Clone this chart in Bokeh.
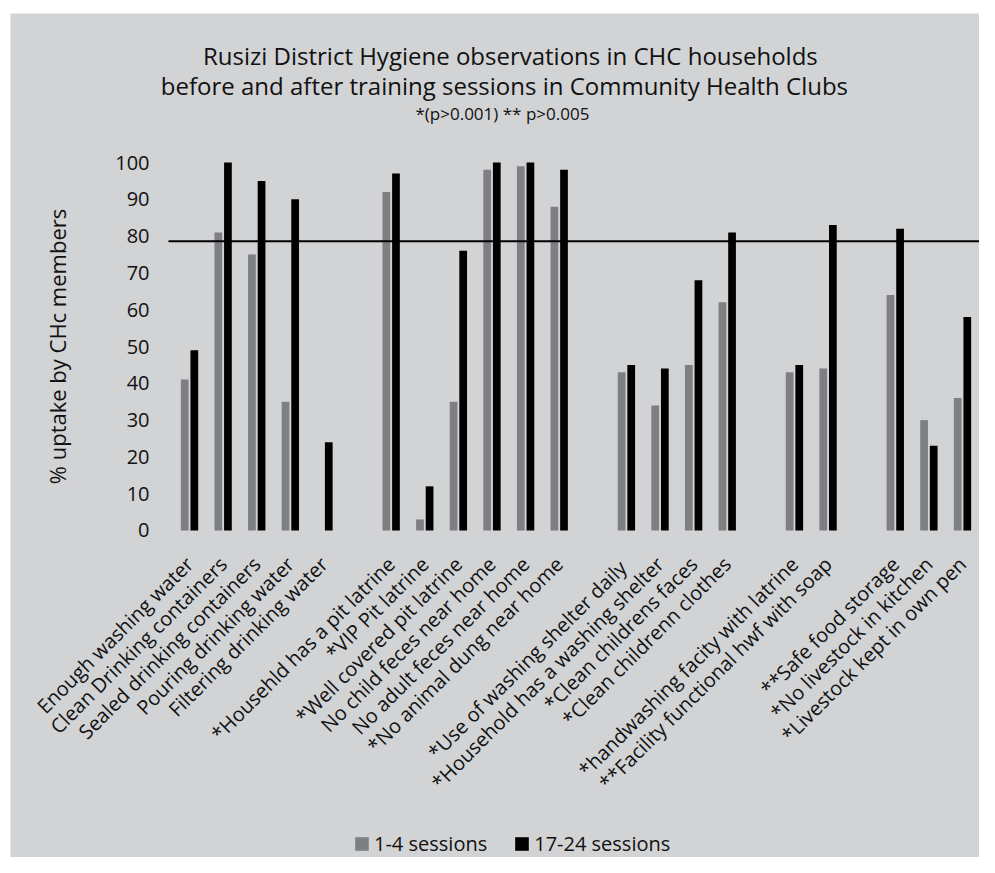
from bokeh.plotting import figure
from bokeh.models import Label, FixedTicker, Range1d, ColumnDataSource
from bokeh.transform import dodge
from bokeh.embed import file_html
from bokeh.resources import INLINE

# ---------------- data ----------------
group_water = ["Enough washing water", "Clean Drinking containers",
               "Sealed drinking containers", "Pouring drinking water",
               "Filtering drinking water"]
group_latrine = ["*Househld has a pit latrine", "*VIP Pit latrine",
                 "*Well covered pit latrine", "No child feces near home",
                 "No adult feces near home", "*No animal dung near home"]
group_shelter = ["*Use of washing  shelter daily", "*Household has a washing shelter",
                 "*Clean childrens faces", "*Clean childrenn clothes"]
group_hands = ["*handwashing facity with latrine", "**Facility functional hwf with soap"]
group_food = ["**Safe food storage", "*No livestock in kitchen", "*Livestock kept in own pen"]
groups = [group_water, group_latrine, group_shelter, group_hands, group_food]

sessions_1_4 = [41, 81, 75, 35, 0,
                92, 3, 35, 98, 99, 88,
                43, 34, 45, 62,
                43, 44,
                64, 30, 36]
sessions_17_24 = [49, 100, 95, 90, 24,
                  97, 12, 76, 100, 100, 98,
                  45, 44, 68, 81,
                  45, 83,
                  82, 23, 58]
target_line = 78.6
y_ticks = [0, 10, 20, 30, 40, 50, 60, 70, 80, 90, 100]
legend_labels = ["1-4 sessions", "17-24 sessions"]

title_1 = "Rusizi District  Hygiene observations in CHC households"
title_2 = "before and after training sessions in Community Health Clubs"
title_3 = "*(p>0.001) ** p>0.005"
y_label = "% uptake by CHc members"

# --------------- layout of categories (one empty slot between groups) -----
positions, labels = [], []
slot = 1
for g in groups:
    for lab in g:
        positions.append(slot)
        labels.append(lab)
        slot += 1
    slot += 1

src = ColumnDataSource(dict(x=positions, a=sessions_1_4, b=sessions_17_24))

BG = "#d2d3d5"
GRAY = "#7e7f83"
FONT = "Open Sans"
TXT = "#111111"

# the frame covers (almost) the whole canvas; axes are drawn at fixed positions
x_left = positions[0] - 0.625
x_right = positions[-1] + 0.5
p = figure(width=979, height=857, output_backend="svg", toolbar_location=None,
           x_range=Range1d(-4.327, 24.506), y_range=Range1d(-88.86, 140.49),
           min_border_left=10, min_border_top=13, min_border_right=0, min_border_bottom=0)
p.background_fill_color = BG
p.border_fill_color = "white"
p.outline_line_color = None
p.grid.visible = False

bw = 0.23
off = 0.143
p.vbar(x=dodge("x", -off, range=p.x_range), top="a", width=bw, source=src,
       fill_color=GRAY, line_color=None, legend_label=legend_labels[0])
p.vbar(x=dodge("x", off, range=p.x_range), top="b", width=bw, source=src,
       fill_color="black", line_color=None, legend_label=legend_labels[1])

p.segment(x0=[x_left], y0=[target_line], x1=[x_right], y1=[target_line],
          line_color="black", line_width=2)

# x axis
xa = p.xaxis[0]
xa.fixed_location = 0
xa.ticker = FixedTicker(ticks=positions)
xa.major_label_overrides = {pos: lab for pos, lab in zip(positions, labels)}
xa.major_label_orientation = 0.7853981634
xa.axis_line_color = None
xa.major_tick_line_color = None
xa.minor_tick_line_color = None
xa.major_tick_out = 0
xa.major_tick_in = 0
xa.major_label_standoff = 30
xa.major_label_text_font = FONT
xa.major_label_text_font_size = "20px"
xa.major_label_text_color = TXT

# y axis
ya = p.yaxis[0]
ya.fixed_location = x_left
ya.bounds = (0, 100)
ya.ticker = FixedTicker(ticks=y_ticks)
ya.axis_line_color = None
ya.major_tick_line_color = None
ya.minor_tick_line_color = None
ya.major_tick_out = 0
ya.major_tick_in = 0
ya.major_label_standoff = 19
ya.major_label_text_font = FONT
ya.major_label_text_font_size = "20px"
ya.major_label_text_color = TXT
ya.axis_label = y_label
ya.axis_label_text_font = FONT
ya.axis_label_text_font_size = "22px"
ya.axis_label_text_font_style = "normal"
ya.axis_label_text_color = TXT
ya.axis_label_standoff = 40

# titles
for txt, xx, yy, fs in [(title_1, 10.64, 129.1, "24px"),
                        (title_2, 10.37, 120.9, "24px"),
                        (title_3, 10.31, 113.3, "17px")]:
    p.add_layout(Label(x=xx, y=yy, text=txt, text_align="center", text_baseline="middle",
                       text_font=FONT, text_font_size=fs, text_color=TXT))

# legend
lg = p.legend[0]
lg.orientation = "horizontal"
lg.location = (343, 0)
lg.background_fill_alpha = 0
lg.border_line_color = None
lg.padding = 0
lg.margin = 0
lg.glyph_width = 17
lg.glyph_height = 17
lg.label_standoff = 4
lg.spacing = 26
lg.label_text_font = FONT
lg.label_text_font_size = "20px"
lg.label_text_color = TXT

open("out.html", "w").write(file_html(p, INLINE))
